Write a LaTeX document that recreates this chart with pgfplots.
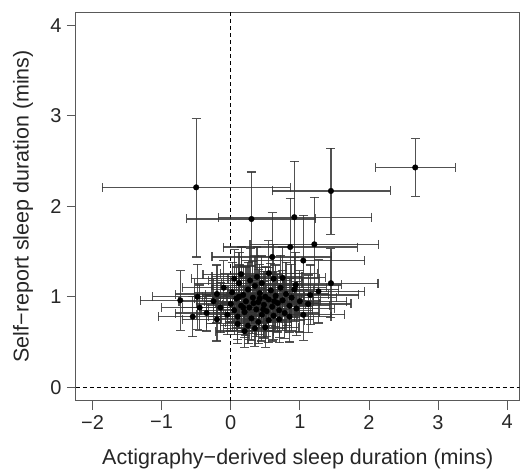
\documentclass[border=0pt]{standalone}
\usepackage{fontspec}
\setmainfont{Liberation Sans}
\usepackage{pgfplots}
\usepackage{pgfplotstable}
\pgfplotsset{compat=1.18}

% x y  x-error minus/plus  y-error minus/plus
\pgfplotstableread{
x y exm exp eym eyp
-0.50 2.21 1.36 1.36 0.77 0.76
2.67 2.43 0.57 0.58 0.32 0.32
1.45 2.17 0.85 0.86 0.48 0.47
0.30 1.86 0.94 0.93 0.52 0.52
0.92 1.88 1.10 1.12 0.62 0.62
1.21 1.58 0.93 0.93 0.52 0.52
0.86 1.55 0.97 0.97 0.54 0.54
1.05 1.40 0.89 0.89 0.50 0.50
0.60 1.44 0.87 0.86 0.49 0.49
1.45 1.15 0.68 0.68 0.38 0.38
1.27 1.06 0.67 0.67 0.35 0.35
0.55 1.26 0.70 0.70 0.36 0.36
0.75 1.21 0.62 0.62 0.34 0.34
0.94 1.13 0.66 0.66 0.36 0.36
-0.48 1.00 0.65 0.65 0.36 0.36
-0.73 0.96 0.58 0.58 0.33 0.33
-0.20 1.03 0.60 0.60 0.32 0.32
-0.35 0.82 0.45 0.45 0.20 0.20
-0.25 0.95 0.50 0.50 0.25 0.25
-0.15 0.88 0.55 0.55 0.28 0.28
-0.10 1.10 0.60 0.60 0.30 0.30
-0.05 0.80 0.45 0.45 0.22 0.22
0.00 0.92 0.50 0.50 0.30 0.30
0.02 1.05 0.55 0.55 0.33 0.33
0.05 0.85 0.48 0.48 0.27 0.27
0.08 0.98 0.60 0.60 0.35 0.35
0.10 0.78 0.42 0.42 0.25 0.25
0.12 1.15 0.65 0.65 0.34 0.34
0.15 0.90 0.50 0.50 0.30 0.30
0.18 1.02 0.55 0.55 0.32 0.32
0.20 0.83 0.45 0.45 0.28 0.28
0.22 0.95 0.60 0.60 0.38 0.38
0.25 1.08 0.52 0.52 0.30 0.30
0.27 0.88 0.48 0.48 0.35 0.35
0.30 0.76 0.44 0.44 0.24 0.24
0.32 0.99 0.58 0.58 0.40 0.40
0.35 1.12 0.62 0.62 0.33 0.33
0.37 0.86 0.50 0.50 0.30 0.30
0.40 0.94 0.55 0.55 0.36 0.36
0.42 1.04 0.47 0.47 0.32 0.32
0.45 0.80 0.52 0.52 0.29 0.29
0.48 0.91 0.60 0.60 0.37 0.37
0.50 1.00 0.56 0.56 0.33 0.33
0.52 0.84 0.46 0.46 0.28 0.28
0.55 0.97 0.50 0.50 0.35 0.35
0.58 1.07 0.62 0.62 0.30 0.30
0.60 0.89 0.58 0.58 0.38 0.38
0.62 0.79 0.50 0.50 0.26 0.26
0.65 1.01 0.54 0.54 0.34 0.34
0.68 0.93 0.60 0.60 0.32 0.32
0.70 0.85 0.48 0.48 0.30 0.30
0.72 1.10 0.66 0.66 0.36 0.36
0.75 0.96 0.55 0.55 0.33 0.33
0.78 0.82 0.50 0.50 0.28 0.28
0.80 1.03 0.62 0.62 0.35 0.35
0.85 0.90 0.58 0.58 0.30 0.30
0.88 0.99 0.65 0.65 0.37 0.37
0.95 0.87 0.55 0.55 0.30 0.30
1.00 0.95 0.68 0.68 0.34 0.34
1.05 0.80 0.60 0.60 0.28 0.28
1.12 0.92 0.62 0.62 0.32 0.32
-0.45 0.88 0.55 0.55 0.25 0.25
-0.55 0.78 0.50 0.50 0.22 0.22
0.05 1.20 0.62 0.62 0.32 0.32
0.15 1.25 0.55 0.55 0.30 0.30
0.28 1.18 0.60 0.60 0.35 0.35
0.38 1.22 0.65 0.65 0.33 0.33
0.45 1.15 0.58 0.58 0.30 0.30
0.62 1.20 0.66 0.66 0.38 0.38
0.10 0.70 0.45 0.45 0.22 0.22
0.25 0.68 0.40 0.40 0.20 0.20
0.40 0.72 0.48 0.48 0.24 0.24
0.55 0.74 0.52 0.52 0.25 0.25
0.70 0.75 0.50 0.50 0.26 0.26
0.20 0.62 0.42 0.42 0.18 0.18
0.35 0.65 0.45 0.45 0.20 0.20
0.50 0.66 0.48 0.48 0.22 0.22
-0.20 0.75 0.50 0.50 0.24 0.24
0.85 0.78 0.60 0.60 0.28 0.28
0.92 1.08 0.64 0.64 0.35 0.35
1.15 1.02 0.70 0.70 0.33 0.33
0.18 0.88 0.50 0.50 0.30 0.30
0.33 0.93 0.55 0.55 0.30 0.30
0.47 0.86 0.52 0.52 0.31 0.31
0.63 0.95 0.57 0.57 0.33 0.33
0.12 1.00 0.53 0.53 0.35 0.35
0.42 0.98 0.60 0.60 0.34 0.34
}\sleeptable

\begin{document}
\begin{tikzpicture}
\begin{axis}[
    at={(0,0)}, anchor=south west,
    scale only axis,
    width=444pt, height=389pt,
    xmin=-2.24, xmax=4.18,
    ymin=-0.15, ymax=4.15,
    xtick={-2,-1,0,1,2,3,4},
    xticklabels={−2,−1,0,1,2,3,4},
    ytick={0,1,2,3,4},
    yticklabels={0,1,2,3,4},
    tick align=outside,
    tick pos=left,
    major tick length=9pt,
    axis line style={black!65, line width=0.9pt},
    tick style={black!65, line width=0.9pt},
    ticklabel style={font=\fontsize{20}{22}\selectfont, text=black!85},
    label style={font=\fontsize{21.5}{25}\selectfont, text=black!85},
    xticklabel style={yshift=-2pt},
    yticklabel style={xshift=-2pt},
    xlabel={Actigraphy−derived sleep duration (mins)},
    ylabel={Self−report sleep duration (mins)},
    xlabel style={at={([yshift=-58pt]axis description cs:0.5,0)}, anchor=center},
    ylabel style={at={([xshift=-53pt]axis description cs:0,0.5)}, anchor=center},
    clip=true,
]
\addplot[black, line width=0.6pt, dash pattern=on 4pt off 3pt] coordinates {(0,-0.15) (0,4.15)};
\addplot[black, line width=0.6pt, dash pattern=on 4pt off 3pt] coordinates {(-2.24,0) (4.18,0)};
\addplot[only marks, mark=*, mark size=2.8pt, black,
    error bars/.cd,
    x dir=both, x explicit,
    y dir=both, y explicit,
    error mark=|,
    error bar style={black!80, line width=1.2pt, opacity=0.85},
    error mark options={black!80, mark size=4.5pt, line width=1.2pt, opacity=0.85},
] table[x=x, y=y, x error minus=exm, x error plus=exp, y error minus=eym, y error plus=eyp] {\sleeptable};
\end{axis}
\pgfresetboundingbox
\path ([xshift=-76pt, yshift=-72pt]current axis.south west) rectangle ([xshift=0.4pt, yshift=12pt]current axis.north east);
\end{tikzpicture}
\end{document}
